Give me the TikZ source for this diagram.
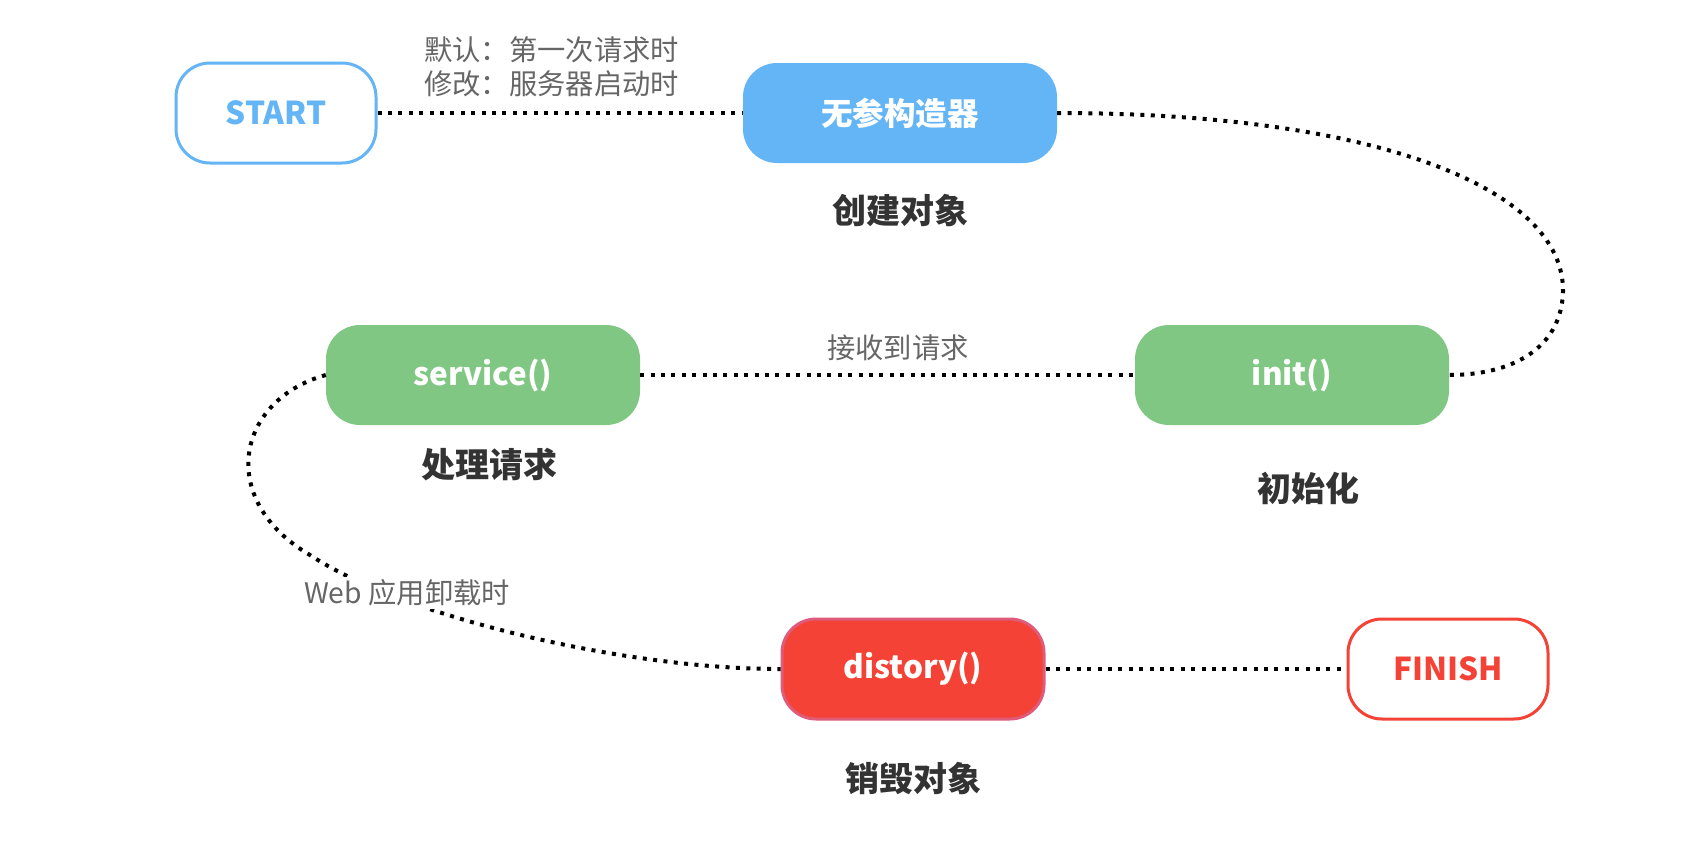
\documentclass[tikz,border=0pt]{standalone}
\usepackage{fontspec}
\setmainfont{Noto Sans CJK SC}
\definecolor{cblue}{HTML}{64B5F6}
\definecolor{cgreen}{HTML}{81C784}
\definecolor{cred}{HTML}{F44336}
\definecolor{cpink}{HTML}{E05A7A}
\definecolor{cgrey}{HTML}{666666}
\definecolor{cdark}{HTML}{333333}
\begin{document}
\begin{tikzpicture}[x=1pt,y=-1pt,
  box/.style={rectangle, rounded corners=34pt, minimum width=314pt, minimum height=100pt, inner sep=0pt,
    font=\fontsize{31.5}{36}\selectfont\bfseries},
  endbox/.style={rectangle, rounded corners=34pt, minimum width=200pt, minimum height=100pt, inner sep=0pt,
    line width=3pt, fill=white, font=\fontsize{31.5}{36}\selectfont\bfseries},
  stagelabel/.style={text=cdark, font=\fontsize{34}{40}\selectfont\bfseries, inner sep=0pt},
  note/.style={text=cgrey, font=\fontsize{28.3}{34}\selectfont, inner sep=0pt, align=left},
  link/.style={line width=4pt, dash pattern=on 4pt off 6.4pt, black}
]
\useasboundingbox (0,0) rectangle (1692,863);
\fill[white] (0,0) rectangle (1692,863);

% nodes
\node[endbox, draw=cblue, text=cblue] (start) at (276,113) {START};
\node[box, fill=cblue, text=white] (ctor) at (900,113) {无参构造器};
\node[box, fill=cgreen, text=white] (init) at (1292,375) {init()};
\node[box, fill=cgreen, text=white] (service) at (483,375) {service()};
\node[box, fill=cred, draw=cpink, line width=3pt, minimum width=262pt, text=white] (destroy) at (913,669) {distory()};
\node[endbox, draw=cred, text=cred] (finish) at (1448,669) {FINISH};

% stage labels
\node[stagelabel] (lcreate) at (900,211) {创建对象};
\node[stagelabel] (lservice) at (489,465) {处理请求};
\node[stagelabel] (linit) at (1308,488) {初始化};
\node[stagelabel] (ldestroy) at (913,778) {销毁对象};

% connectors
\draw[link] (start.east) -- (ctor.west);
\draw[link] (service.east) -- (init.west);
\draw[link] (destroy.east) -- (finish.west);
\draw[link] (ctor.east) .. controls (1380,113) and (1565,190) .. (1563,292)
  .. controls (1561,350) and (1510,375) .. (init.east);
\draw[link] (service.west) .. controls (236,400) and (216,500) .. (310,555)
  .. controls (400,615) and (620,669) .. (destroy.west);

% notes
\node[note, anchor=west] (n1) at (424,50) {默认：第一次请求时};
\node[note, anchor=west] (n2) at (424,84) {修改：服务器启动时};
\node[note] (n3) at (898,348) {接收到请求};
\node[note, fill=white, inner sep=3pt] (n4) at (407,593) {Web 应用卸载时};
\end{tikzpicture}
\end{document}
